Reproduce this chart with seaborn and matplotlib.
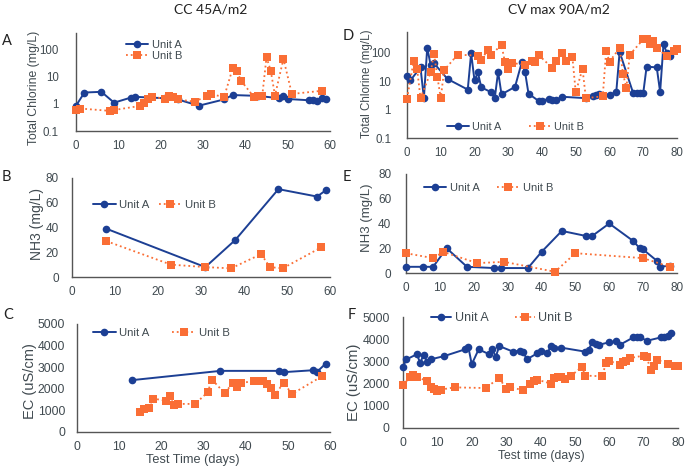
import matplotlib
matplotlib.use('Agg')
import matplotlib.pyplot as plt
import seaborn as sns
import pandas as pd
from matplotlib.ticker import FixedLocator, FixedFormatter, NullLocator

# ---------------- data ----------------
# Panel A : Total chlorine, CC 45A/m2
a_unitA_day = [0, 2, 6, 9, 13, 14, 21, 24, 29, 35, 37, 43, 48, 49, 50, 55, 56, 57, 58, 59]
a_unitA_val = [0.85, 2.6, 2.75, 1.1, 1.7, 1.8, 1.6, 1.45, 0.85, 1.45, 2.1, 1.95, 1.6, 2.0, 1.5, 1.35, 1.4, 1.3, 1.6, 1.5]
a_unitB_day = [0, 1, 8, 9, 15, 16, 17, 18, 21, 22, 23, 24, 28, 31, 32, 35, 37, 38, 39, 42, 43, 44, 45, 46, 47, 49, 51, 58]
a_unitB_val = [0.58, 0.67, 0.55, 0.59, 0.83, 1.04, 1.45, 1.8, 1.55, 2.0, 1.75, 1.45, 1.2, 1.95, 2.2, 1.8, 20, 16, 7, 1.8, 1.9, 2.0, 51, 16.5, 2.0, 45, 2.3, 3.0]

# Panel B : NH3, CC
b_unitA_day = [8, 31, 38, 48, 57, 59]
b_unitA_val = [39, 8, 30, 71, 65, 70]
b_unitB_day = [8, 23, 31, 37, 44, 46, 49, 58]
b_unitB_val = [29, 10, 8, 7, 18.5, 8, 7, 24]

# Panel C : EC, CC
c_unitA_day = [13, 34, 48, 49, 56, 57, 59]
c_unitA_val = [2400, 2830, 2830, 2770, 2860, 2800, 3170]
c_unitB_day = [15, 16, 17, 18, 21, 22, 23, 24, 28, 31, 32, 35, 37, 38, 39, 42, 43, 44, 45, 46, 47, 49, 51, 58]
c_unitB_val = [930, 1080, 1130, 1550, 1450, 1650, 1240, 1300, 1300, 1840, 2430, 1800, 2280, 2100, 2280, 2350,
               2370, 2370, 2200, 2060, 1730, 2280, 1760, 2570]

# Panel D : Total chlorine, CV max 90A/m2
d_unitA_day = [0, 1, 4, 5, 6, 7, 8, 12, 18, 19, 20, 21, 22, 25, 26, 27, 28, 32, 34, 35, 36, 39, 40, 42, 43, 44,
               46, 53, 55, 56, 57, 60, 62, 63, 67, 68, 69, 70, 71, 74, 75, 76, 77, 78]
d_unitA_val = [15.5, 10.5, 30, 2.5, 150, 36, 42, 11.8, 5, 95, 10.5, 20, 6, 4, 2.5, 21, 3.4, 6.2, 45, 20, 3.6, 2.0,
               2.0, 2.4, 2.2, 2.1, 2.8, 2.5, 3.0, 3.3, 3.5, 3.3, 4, 105, 3.8, 3.8, 3.8, 3.8, 32, 30, 4.1, 200, 95, 75]
d_unitB_day = [0, 2, 3, 4, 7, 8, 9, 10, 11, 15, 21, 22, 24, 25, 28, 29, 30, 31, 35, 37, 38, 39, 43, 44, 46, 47,
               49, 50, 52, 53, 58, 59, 60, 63, 64, 65, 66, 70, 71, 72, 73, 74, 77, 79, 80]
d_unitB_val = [2.4, 52, 26, 2.5, 20, 92, 14, 2.5, 24, 84, 78, 56, 125, 85, 185, 47, 27, 43, 37, 49, 45, 82, 29,
               52, 96, 52, 70, 4, 27, 2.5, 2.9, 110, 48, 144, 18, 5.7, 84, 290, 290, 200, 245, 144, 74, 110, 133]

# Panel E : NH3, CV
e_unitA_day = [0, 5, 8, 12, 18, 26, 28, 36, 40, 46, 53, 55, 60, 67, 69, 70, 74, 75, 78]
e_unitA_val = [5, 5, 5, 20, 5, 4, 4, 4, 17, 34, 30, 30, 40, 26, 20, 19, 10, 5, 6]
e_unitB_day = [0, 8, 11, 21, 29, 44, 50, 70, 78]
e_unitB_val = [16, 12, 17, 8, 9, 1, 16, 12, 5]

# Panel F : EC, CV
f_unitA_day = [0, 1, 4, 5, 6, 7, 8, 12, 18, 19, 20, 22, 25, 26, 27, 28, 32, 34, 35, 36, 39, 40, 42, 43, 44, 46,
               53, 54, 55, 56, 57, 60, 62, 63, 67, 68, 69, 71, 75, 76, 77, 78]
f_unitA_val = [2760, 3090, 3320, 2940, 3290, 2990, 3090, 3240, 3540, 3660, 2870, 3540, 3330, 3540, 3210, 3690,
               3440, 3480, 3440, 3090, 3360, 3480, 3360, 3690, 3620, 3620, 3440, 3510, 3870, 3800, 3750, 3860,
               3900, 3740, 4080, 4080, 4080, 3930, 4080, 4080, 4160, 4260]
f_unitB_day = [0, 2, 3, 4, 7, 8, 9, 10, 11, 15, 24, 28, 30, 31, 35, 37, 38, 39, 43, 44, 45, 46, 47, 49, 52, 53,
               58, 59, 60, 63, 64, 65, 66, 70, 71, 72, 73, 74, 77, 79, 80]
f_unitB_val = [1940, 2280, 2390, 2280, 2130, 1830, 1760, 1680, 1730, 1830, 1800, 2250, 1770, 1830, 1710, 2000,
               2130, 2180, 2000, 2250, 2280, 2280, 2210, 2360, 2760, 2360, 2330, 2930, 3030, 2850, 2960, 3000,
               3150, 3260, 3180, 2600, 2780, 3080, 2880, 2780, 2810]

series_names = ['Unit A', 'Unit B']
col_titles = ['CC 45A/m2', 'CV max 90A/m2']
panel_letters = ['A', 'B', 'C', 'D', 'E', 'F']
ylabels = ['Total Chlorine (mg/L)', 'NH3 (mg/L)', 'EC (uS/cm)']
xlabels = ['Test Time (days)', 'Test time (days)']
log_ticks = [0.1, 1, 10, 100]
log_ticklabels = ['0.1', '1', '10', '100']
nh3_ticks = [0, 20, 40, 60, 80]
ec_ticks = [0, 1000, 2000, 3000, 4000, 5000]

# ---------------- style ----------------
sns.set_theme(style='white')
plt.rcParams['font.family'] = ['Liberation Sans', 'DejaVu Sans']

BLUE = '#1c3f94'
ORANGE = '#fa6e35'
TXT = '#404a50'
SPINE = '#555555'

W, H = 687, 468
fig = plt.figure(figsize=(W / 100, H / 100), dpi=100)
fig.patch.set_facecolor('white')


def fx(px):
    return px / W


def fy(py):
    return 1 - py / H


def rect(left, right, top, bottom):
    return [fx(left), fy(bottom), (right - left) / W, (bottom - top) / H]


def panel(r, xa, ya, xb, yb, xmax, xticks, log=False, ylim=None, yticks=None,
          ytl=None, tick_fs=8.5, ypad=6):
    ax = fig.add_axes(r)
    dfa = pd.DataFrame({'day': xa, 'value': ya})
    dfb = pd.DataFrame({'day': xb, 'value': yb})
    sns.lineplot(data=dfa, x='day', y='value', ax=ax, color=BLUE, lw=1.4, marker='o',
                 markersize=5.5, markeredgewidth=0, estimator=None, sort=False,
                 label=series_names[0], clip_on=False, zorder=3)
    sns.lineplot(data=dfb, x='day', y='value', ax=ax, color=ORANGE, lw=1.3, linestyle=':',
                 marker='s', markersize=5.5, markeredgewidth=0, estimator=None, sort=False,
                 label=series_names[1], clip_on=False, zorder=4)
    if log:
        ax.set_yscale('log')
    ax.set_xlim(0, xmax)
    ax.set_ylim(*ylim)
    ax.xaxis.set_major_locator(FixedLocator(xticks))
    ax.yaxis.set_major_locator(FixedLocator(yticks))
    if ytl is not None:
        ax.yaxis.set_major_formatter(FixedFormatter(ytl))
    ax.yaxis.set_minor_locator(NullLocator())
    ax.xaxis.set_minor_locator(NullLocator())
    ax.set_xlabel('')
    ax.set_ylabel('')
    for s in ['top', 'right']:
        ax.spines[s].set_visible(False)
    for s in ['left', 'bottom']:
        ax.spines[s].set_color(SPINE)
        ax.spines[s].set_linewidth(1.0)
    ax.tick_params(axis='both', direction='inout', length=5, width=1.0, color=SPINE,
                   labelsize=tick_fs, labelcolor=TXT)
    ax.tick_params(axis='y', pad=ypad)
    ax.tick_params(axis='x', pad=4)
    ax.set_facecolor('none')
    ax.grid(False)
    return ax


def legend(ax, x_px, y_px, ncol, fs, colsp=1.5, hl=2.0, htp=0.3):
    h, l = ax.get_legend_handles_labels()
    ax.legend(h, l, loc='center left', bbox_to_anchor=(fx(x_px), fy(y_px)),
              bbox_transform=fig.transFigure, ncol=ncol, frameon=False,
              fontsize=fs, borderpad=0, borderaxespad=0, handlelength=hl,
              handletextpad=htp, columnspacing=colsp, labelspacing=0.15,
              labelcolor=TXT)


# Panel A
axA = panel(rect(76, 330, 33, 131), a_unitA_day, a_unitA_val, a_unitB_day, a_unitB_val,
            60, list(range(0, 61, 10)), log=True, ylim=(0.1, 400), yticks=log_ticks,
            ytl=log_ticklabels, tick_fs=8.3, ypad=10)
legend(axA, 126, 50.5, 1, 8.0)

# Panel B
axB = panel(rect(72, 330, 178, 277), b_unitA_day, b_unitA_val, b_unitB_day, b_unitB_val,
            60, list(range(0, 61, 10)), ylim=(0, 80), yticks=nh3_ticks, tick_fs=8.5, ypad=7)
legend(axB, 93, 205, 2, 8.2, colsp=0.8)

# Panel C
axC = panel(rect(77, 330, 324, 432), c_unitA_day, c_unitA_val, c_unitB_day, c_unitB_val,
            60, list(range(0, 61, 10)), ylim=(0, 5000), yticks=ec_ticks, tick_fs=8.8, ypad=6)
legend(axC, 93, 333, 2, 8.2, colsp=2.0)

# Panel D
axD = panel(rect(407, 677, 32, 138), d_unitA_day, d_unitA_val, d_unitB_day, d_unitB_val,
            80, list(range(0, 81, 10)), log=True, ylim=(0.1, 525), yticks=log_ticks,
            ytl=log_ticklabels, tick_fs=8.3, ypad=9)
legend(axD, 447, 127, 2, 7.8, colsp=2.6)

# Panel E
axE = panel(rect(406, 677, 174, 273), e_unitA_day, e_unitA_val, e_unitB_day, e_unitB_val,
            80, list(range(0, 81, 10)), ylim=(0, 80), yticks=nh3_ticks, tick_fs=8.5, ypad=8)
legend(axE, 424, 188, 2, 8.0, colsp=1.6)

# Panel F
axF = panel(rect(403, 678, 317, 428), f_unitA_day, f_unitA_val, f_unitB_day, f_unitB_val,
            80, list(range(0, 81, 10)), ylim=(0, 5000), yticks=ec_ticks, tick_fs=8.8, ypad=7)
legend(axF, 431, 318, 2, 9.0, colsp=2.1, hl=1.6)

# ---------------- texts ----------------
TITLE_FONT = ['Lato', 'DejaVu Sans']
fig.text(fx(211), fy(10), col_titles[0], ha='center', va='center', fontsize=10,
         color='#222222', family=TITLE_FONT)
fig.text(fx(559), fy(10), col_titles[1], ha='center', va='center', fontsize=10,
         color='#222222', family=TITLE_FONT)

letter_pos = [(6.5, 41), (6, 177), (8, 315), (348, 36), (347, 177), (352, 315)]
for lt, (px, py) in zip(panel_letters, letter_pos):
    fig.text(fx(px), fy(py), lt, ha='center', va='center', fontsize=10.5,
             color='#222222', family=TITLE_FONT)

ylab_pos = [(34, 87.5, 8.8, 0), (37, 224, 10.0, 1), (30.5, 381, 10.5, 2),
            (367, 84, 8.4, 0), (367, 217.5, 9.5, 1), (354, 382, 10.8, 2)]
for px, py, fs, idx in ylab_pos:
    fig.text(fx(px), fy(py), ylabels[idx], ha='center', va='center', rotation=90,
             fontsize=fs, color=TXT)

fig.text(fx(193), fy(460), xlabels[0], ha='center', va='center', fontsize=9.2, color=TXT)
fig.text(fx(541), fy(456), xlabels[1], ha='center', va='center', fontsize=8.8, color=TXT)

fig.savefig('out.png', dpi=100, facecolor='white')
